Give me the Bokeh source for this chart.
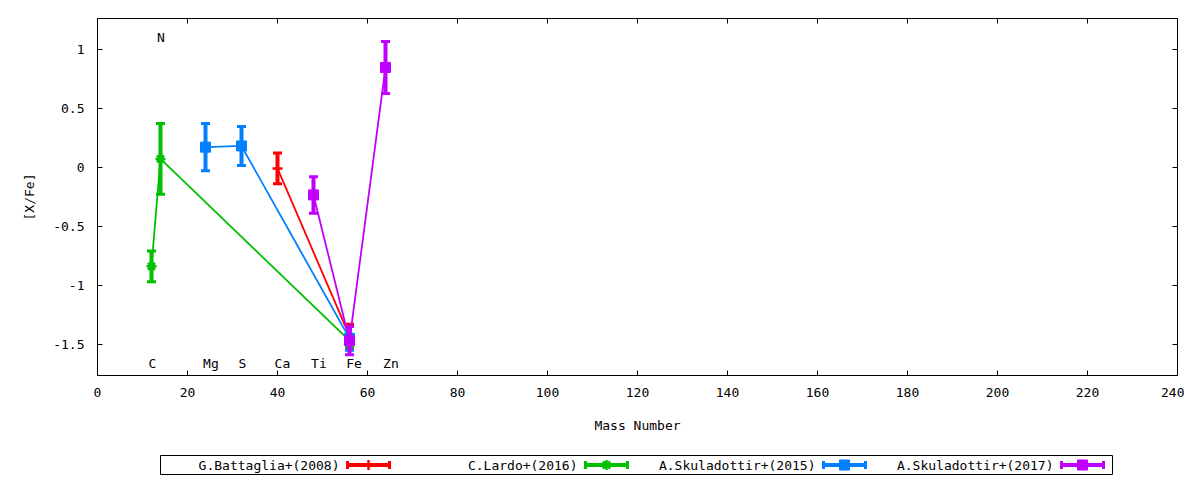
from bokeh.plotting import figure
from bokeh.layouts import column
from bokeh.models import Range1d, FixedTicker, LinearAxis, CustomJSTickFormatter
from bokeh.core.properties import value
from bokeh.embed import file_html
from bokeh.resources import INLINE

FONT = "DejaVu Sans Mono"
FS = "13px"

# [X/Fe] against mass number, one set of lists per study (value, error)
battaglia_mass = [40, 56]
battaglia_xfe = [-0.01, -1.43]
battaglia_err = [0.13, 0.10]

lardo_mass = [12, 14, 56]
lardo_xfe = [-0.84, 0.07, -1.47]
lardo_err = [0.13, 0.30, 0.05]

skul15_mass = [24, 32, 56]
skul15_xfe = [0.17, 0.18, -1.45]
skul15_err = [0.20, 0.165, 0.10]

skul17_mass = [48, 56, 64]
skul17_xfe = [-0.235, -1.47, 0.845]
skul17_err = [0.155, 0.12, 0.22]

# element names written on the plot
elem_names = ["C", "N", "Mg", "S", "Ca", "Ti", "Fe", "Zn"]
elem_mass = [12.2, 14.1, 25.2, 32.2, 41.1, 49.2, 57.0, 65.2]
elem_y = [-1.665, 1.1, -1.665, -1.665, -1.665, -1.665, -1.665, -1.665]

x_ticks = list(range(0, 241, 20))
y_ticks = [-1.5, -1, -0.5, 0, 0.5, 1]

series = [
    ("G.Battaglia+(2008)", battaglia_mass, battaglia_xfe, battaglia_err, "#ff0000", "cross"),
    ("C.Lardo+(2016)", lardo_mass, lardo_xfe, lardo_err, "#00c000", "asterisk"),
    ("A.Skuladottir+(2015)", skul15_mass, skul15_xfe, skul15_err, "#0080ff", "square"),
    ("A.Skuladottir+(2017)", skul17_mass, skul17_xfe, skul17_err, "#c000ff", "square"),
]

p = figure(width=1184, height=448, x_range=Range1d(0, 240), y_range=Range1d(-1.765, 1.26),
           toolbar_location=None, output_backend="svg",
           min_border_left=97, min_border_right=7, min_border_top=18, min_border_bottom=73,
           x_axis_label="Mass Number", y_axis_label="[X/Fe]")
p.grid.visible = False
p.outline_line_color = "black"
p.background_fill_color = "white"
p.border_fill_color = "white"

xb = p.below[0]
yl = p.left[0]
blank = CustomJSTickFormatter(code="return ''")
xt = LinearAxis(formatter=blank)
yr = LinearAxis(formatter=blank)
p.add_layout(xt, "above")
p.add_layout(yr, "right")

num = CustomJSTickFormatter(code="return tick.toString()")
xb.formatter = num
yl.formatter = num
for ax in (xb, xt):
    ax.ticker = FixedTicker(ticks=x_ticks)
for ax in (yl, yr):
    ax.ticker = FixedTicker(ticks=y_ticks)
for ax in (xb, xt, yl, yr):
    ax.major_tick_in = 5
    ax.major_tick_out = 0
    ax.minor_tick_line_color = None
    ax.axis_line_color = "black"
    ax.major_tick_line_color = "black"
    ax.major_label_text_color = "black"
    ax.major_label_text_font = FONT
    ax.major_label_text_font_size = FS
    ax.axis_label_text_font = FONT
    ax.axis_label_text_font_size = FS
    ax.axis_label_text_font_style = "normal"
    ax.axis_label_text_color = "black"

xb.major_label_standoff = 12
xb.axis_label_standoff = 18
yl.major_label_standoff = 13
yl.axis_label_standoff = 13

for name, mass, xfe, err, col, mk in series:
    lo = [v - e for v, e in zip(xfe, err)]
    hi = [v + e for v, e in zip(xfe, err)]
    p.line(mass, xfe, line_width=1.8, color=col)
    p.segment(mass, lo, mass, hi, line_width=4, color=col)
    p.scatter(mass, lo, marker="dash", size=9, line_width=3, color=col)
    p.scatter(mass, hi, marker="dash", size=9, line_width=3, color=col)
    if mk == "square":
        p.scatter(mass, xfe, marker="square", size=10, color=col)
    else:
        p.scatter(mass, xfe, marker=mk, size=10, line_width=2.5, color=col)

p.text(elem_mass, elem_y, text=elem_names, text_align="center", text_baseline="middle",
       text_font=value(FONT), text_font_size=FS, text_color="black")

# key below the plot; its frame lines up with the plot frame (page x 97..1177)
lg = figure(width=1184, height=32, x_range=Range1d(97, 1177), y_range=Range1d(32, 0),
            toolbar_location=None, output_backend="svg",
            min_border_left=97, min_border_right=7, min_border_top=0, min_border_bottom=0)
lg.axis.visible = False
lg.grid.visible = False
lg.outline_line_color = None
lg.border_fill_color = "white"
lg.quad(left=[160], right=[1112], top=[7], bottom=[26], fill_color=None, line_color="black", line_width=1)
ym = 16.5
for i, (name, mass, xfe, err, col, mk) in enumerate(series):
    x0 = 347 + i * 238
    x1 = x0 + 42
    xm = (x0 + x1) / 2
    lg.text([x0 - 8], [ym], text=[name], text_align="right", text_baseline="middle",
            text_font=value(FONT), text_font_size=FS, text_color="black")
    lg.segment([x0], [ym], [x1], [ym], line_width=4, color=col)
    lg.segment([x0, x1], [ym - 4, ym - 4], [x0, x1], [ym + 4, ym + 4], line_width=3, color=col)
    if mk == "square":
        lg.scatter([xm], [ym], marker="square", size=10, color=col)
    else:
        lg.scatter([xm], [ym], marker=mk, size=10, line_width=2.5, color=col)

layout = column(p, lg)
open("out.html", "w").write(file_html(layout, INLINE))
